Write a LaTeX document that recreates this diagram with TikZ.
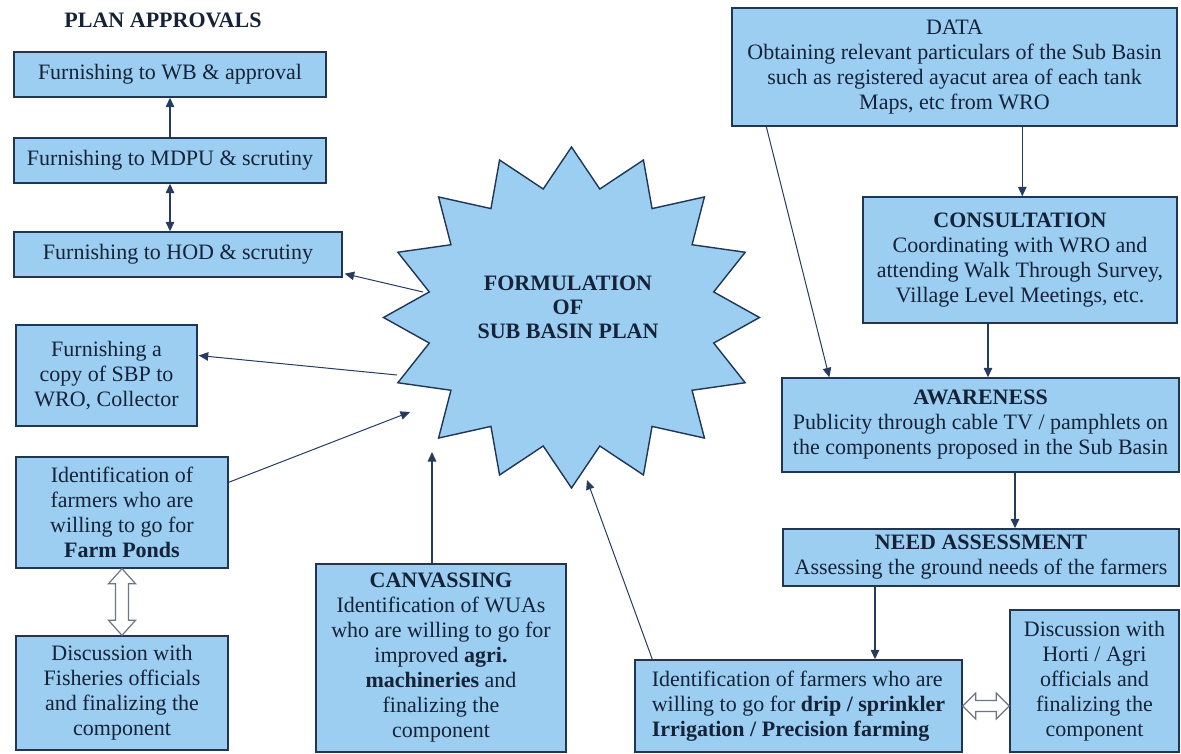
\documentclass[tikz,border=0pt]{standalone}
\usepackage{fontspec}
\setmainfont{Liberation Serif}
\usetikzlibrary{arrows.meta,calc}
\definecolor{boxfill}{RGB}{155,206,240}
\definecolor{boxline}{RGB}{32,54,84}
\definecolor{ink}{RGB}{22,34,56}
\definecolor{arrowink}{RGB}{38,60,94}
\definecolor{hollowline}{RGB}{110,118,130}
\begin{document}
\begin{tikzpicture}[x=1pt,y=-1pt,
  box/.style={draw=boxline, fill=boxfill, line width=1.4pt, text=ink,
    align=center, inner sep=0pt, font=\fontsize{22}{25}\selectfont},
  conn/.style={draw=arrowink, line width=1.4pt,
    -{Triangle[width=8.5pt,length=9.5pt]}},
  twoway/.style={draw=arrowink, line width=1.4pt,
    {Triangle[width=8.5pt,length=9.5pt]}-{Triangle[width=8.5pt,length=9.5pt]}},
  thin conn/.style={conn, line width=1pt},
  hollow/.style={draw=hollowline, fill=white, line width=1.2pt},
  heading/.style={text=ink, font=\fontsize{22}{25}\selectfont\bfseries, align=center, inner sep=0pt},
  starsty/.style={draw=boxline, fill=boxfill, line width=1.4pt, line join=miter}]
\useasboundingbox (0,0) rectangle (1181,754);

% plan approval chain
\node[heading] (title) at (163,20) {PLAN APPROVALS};
\node[box, minimum width=312pt, minimum height=45pt] (wb) at (170,74.5) {Furnishing to WB \& approval};
\node[box, minimum width=312pt, minimum height=45pt] (mdpu) at (170,160.5) {Furnishing to MDPU \& scrutiny};
\node[box, minimum width=328pt, minimum height=45pt] (hod) at (178,254.5) {Furnishing to HOD \& scrutiny};

% left column
\node[box, minimum width=181pt, minimum height=101pt] (copy) at (106.5,375.5) {Furnishing a\\copy of SBP to\\WRO, Collector};
\node[box, minimum width=212pt, minimum height=111pt] (farm) at (122,512.5) {Identification of\\farmers who are\\willing to go for\\\textbf{Farm Ponds}};
\node[box, minimum width=212pt, minimum height=114pt] (fish) at (122,693) {Discussion with\\Fisheries officials\\and finalizing the\\component};
\node[box, minimum width=250pt, minimum height=188pt] (canv) at (441,658) {\textbf{CANVASSING}\\Identification of WUAs\\who are willing to go for\\improved \textbf{agri.}\\\textbf{machineries} and\\finalizing the\\component};

% right column
\node[box, minimum width=445pt, minimum height=118pt] (data) at (954.5,67) {DATA\\Obtaining relevant particulars of the Sub Basin\\such as registered ayacut area of each tank\\Maps, etc from WRO};
\node[box, minimum width=314pt, minimum height=126pt] (cons) at (1020,260) {\textbf{CONSULTATION}\\Coordinating with WRO and\\attending Walk Through Survey,\\Village Level Meetings, etc.};
\node[box, minimum width=397pt, minimum height=94pt] (aware) at (980.5,425) {\textbf{AWARENESS}\\Publicity through cable TV / pamphlets on\\the components proposed in the Sub Basin};
\node[box, minimum width=396pt, minimum height=57pt] (need) at (981,557.5) {\textbf{NEED ASSESSMENT}\\Assessing the ground needs of the farmers};
\node[box, minimum width=327pt, minimum height=92pt, align=left] (drip) at (798.5,706) {Identification of farmers who are\\willing to go for \textbf{drip / sprinkler}\\\textbf{Irrigation / Precision farming}};
\node[box, minimum width=169pt, minimum height=142pt] (horti) at (1094.5,681) {Discussion with\\Horti / Agri\\officials and\\finalizing the\\component};

% central sixteen-point star
\coordinate (sc) at (571.5,317.5);
\draw[starsty, shift={(571.5,317.5)}] (0:188 and 170.5)
  \foreach \k in {0,...,15} { -- ({\k*22.5+11.25}:145 and 131) -- ({(\k+1)*22.5}:188 and 170.5) } -- cycle;
\node[heading, font=\fontsize{22}{24}\selectfont\bfseries] (plan) at (568,307) {FORMULATION\\OF\\SUB BASIN PLAN};

% approval arrows
\draw[conn] (mdpu.north) -- (wb.south);
\draw[twoway] (mdpu.south) -- (mdpu.south |- hod.north);

% star to and from the surrounding boxes
\draw[thin conn] ($(sc)+(-148.5,-25.5)$) -- ($(hod.south east)+(2,-4)$);
\draw[thin conn] ($(sc)+(-174.5,57.5)$) -- ($(copy.east)+(1,-20)$);
\draw[thin conn] ($(farm.north east)+(0,26)$) -- ($(sc)+(-161.5,94.5)$);
\draw[conn] ($(canv.north)+(-9,0)$) -- ($(sc)+(-139.5,134.5)$);
\draw[thin conn] ($(drip.north west)+(18,0)$) -- ($(sc)+(15.5,162.5)$);

% right-hand flow
\draw[thin conn] ($(data.south west)+(35,0)$) -- ($(aware.north west)+(48,0)$);
\draw[conn] ($(data.south west)+(291,0)$) coordinate (d1) -- (d1 |- cons.north);
\draw[conn] ($(cons.south)+(-32,0)$) coordinate (c1) -- (c1 |- aware.north);
\draw[conn] ($(aware.south)+(34.5,0)$) coordinate (a1) -- (a1 |- need.north);
\draw[conn] ($(need.south)+(-106,0)$) coordinate (n1) -- (n1 |- drip.north);

% hollow two-way arrows
\draw[hollow] (farm.south) -- ++(13.5,15) -- ++(-7,0) -- ($(fish.north)+(6.5,-15)$)
  -- ++(7,0) -- (fish.north) -- ++(-13.5,-15) -- ++(7,0) -- ($(farm.south)+(-6.5,15)$)
  -- ++(-7,0) -- cycle;
\draw[hollow] (drip.east) -- ++(13,-13) -- ++(0,7.5) -- ($(drip.east -| horti.west)+(-13,-5.5)$)
  -- ++(0,-7.5) -- (drip.east -| horti.west) -- ++(-13,13) -- ++(0,-7.5) -- ($(drip.east)+(13,5.5)$)
  -- ++(0,7.5) -- cycle;
\end{tikzpicture}
\end{document}
